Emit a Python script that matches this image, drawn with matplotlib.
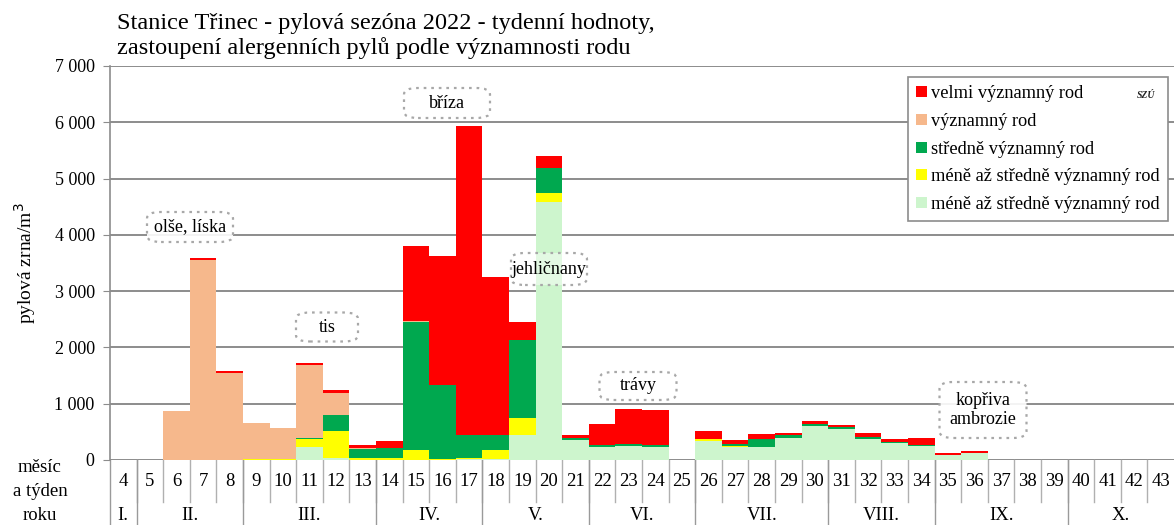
import matplotlib
matplotlib.use("Agg")
import matplotlib.pyplot as plt
from matplotlib.patches import Patch, FancyBboxPatch
from matplotlib.lines import Line2D
from matplotlib.transforms import blended_transform_factory

plt.rcParams['font.family'] = ['Liberation Serif', 'DejaVu Serif']

weeks = list(range(4, 44))
months = ["I.", "II.", "III.", "IV.", "V.", "VI.", "VII.", "VIII.", "IX.", "X."]
month_first_week = [4, 5, 9, 14, 18, 22, 26, 31, 35, 40]
month_last_week = [4, 8, 13, 17, 21, 25, 30, 34, 39, 43]

# values per week 4..43
light_green = [0, 0, 0, 0, 0, 0, 0, 230, 30, 0, 0, 0, 0, 10, 25, 440, 4580, 350, 235, 250,
               224, 0, 340, 230, 235, 390, 600, 547, 370, 305, 247, 80, 130, 0, 0, 0, 0, 0, 0, 0]
yellow = [0, 0, 0, 0, 0, 10, 10, 145, 490, 40, 40, 180, 20, 30, 150, 300, 160, 0, 0, 0,
          0, 0, 30, 25, 0, 0, 0, 0, 0, 0, 0, 0, 0, 0, 0, 0, 0, 0, 0, 0]
green = [0, 0, 0, 0, 0, 10, 0, 15, 275, 150, 170, 2270, 1310, 410, 265, 1390, 440, 40, 40, 40,
         40, 0, 10, 35, 130, 60, 45, 40, 40, 20, 20, 0, 0, 0, 0, 0, 0, 0, 0, 0]
peach = [0, 0, 870, 3550, 1550, 640, 560, 1290, 390, 20, 0, 20, 0, 0, 0, 0, 0, 0, 0, 0,
         0, 0, 0, 0, 0, 0, 0, 0, 0, 0, 0, 0, 0, 0, 0, 0, 0, 0, 0, 0]
red = [0, 0, 0, 40, 25, 0, 0, 40, 60, 50, 130, 1340, 2300, 5490, 2810, 320, 225, 60, 360, 620,
       620, 0, 140, 60, 90, 30, 40, 30, 70, 40, 115, 40, 30, 0, 0, 0, 0, 0, 0, 0]

series_labels = ["velmi významný rod", "významný rod", "středně významný rod",
                 "méně až středně významný rod", "méně až středně významný rod"]
c_red, c_peach, c_green, c_yellow, c_lg = "#ff0000", "#f6b88c", "#00a84f", "#ffff00", "#cdf5cd"

W, H = 1174, 525
fig = plt.figure(figsize=(W / 100, H / 100), dpi=100)
ax_l, ax_r, ax_t, ax_b = 110, 1174, 66, 460
ax = fig.add_axes([ax_l / W, 1 - ax_b / H, (ax_r - ax_l) / W, (ax_b - ax_t) / H])

bottom = [0] * len(weeks)
for vals, col in [(light_green, c_lg), (yellow, c_yellow), (green, c_green), (peach, c_peach), (red, c_red)]:
    ax.bar(weeks, vals, width=1.0, bottom=bottom, color=col, linewidth=0, zorder=3)
    bottom = [b + v for b, v in zip(bottom, vals)]

ax.set_xlim(3.5, 43.5)
ax.set_ylim(0, 7000)
ax.set_yticks(range(0, 7001, 1000))
ax.set_yticklabels([f"{v:,}".replace(",", " ") for v in range(0, 7001, 1000)], fontsize=13)
ax.yaxis.grid(True, color="#8c8c8c", linewidth=1.4, zorder=0)
ax.set_axisbelow(True)
ax.set_xticks([])
for s in ["top", "right", "bottom"]:
    ax.spines[s].set_visible(False)
ax.spines["left"].set_color("#8c8c8c")
ax.spines["left"].set_linewidth(1.2)
ax.tick_params(axis="y", length=5, color="#8c8c8c", pad=6)
ax.set_ylabel("pylová zrna/m$^3$", fontsize=14, labelpad=12)

# title
fig.text(117 / W, 1 - 23 / H, "Stanice Třinec - pylová sezóna 2022 - tydenní hodnoty,", fontsize=17.5, va="center")
fig.text(117 / W, 1 - 48 / H, "zastoupení alergenních pylů podle významnosti rodu", fontsize=17.5, va="center")

# bottom table
tb = blended_transform_factory(ax.transData, fig.transFigure)
for w in weeks:
    fig.text(w, 1 - 482 / H, str(w), transform=tb, ha="center", va="center", fontsize=13.5)
    if w > 4:
        ax.add_line(Line2D([w - 0.5, w - 0.5], [1 - 460 / H, 1 - 502 / H], transform=tb,
                           color="#b0b0b0", linewidth=1, clip_on=False))
for b in [3.5] + [lw + 0.5 for lw in month_last_week[:-1]]:
    ax.add_line(Line2D([b, b], [1 - 460 / H, 0], transform=tb, color="#9a9a9a",
                       linewidth=1, clip_on=False))
for m, a, b in zip(months, month_first_week, month_last_week):
    fig.text((a + b) / 2, 1 - 516 / H, m, transform=tb, ha="center", va="center", fontsize=13.5)
fig.text(40 / W, 1 - 468 / H, "měsíc", ha="center", va="center", fontsize=13.5)
fig.text(40 / W, 1 - 492 / H, "a týden", ha="center", va="center", fontsize=13.5)
fig.text(40 / W, 1 - 516 / H, "roku", ha="center", va="center", fontsize=13.5)

# annotations
def note(cx, cy, txt, w, h, alpha=0.9):
    x0, y0 = cx - w / 2, cy - h / 2
    box = FancyBboxPatch((x0 / W, 1 - (y0 + h) / H), w / W, h / H, transform=fig.transFigure,
                         boxstyle="round,pad=0,rounding_size=0.012", facecolor=(1, 1, 1, alpha),
                         edgecolor="#a8a8a8", linestyle=(0, (1.2, 2.2)), linewidth=1.6, zorder=5)
    fig.add_artist(box)
    fig.text(cx / W, 1 - cy / H, txt, ha="center", va="center", fontsize=13, zorder=6,
             linespacing=1.2)

note(190, 227, "olše, líska", 86, 30)
note(447, 103, "bříza", 86, 30)
note(327, 327, "tis", 62, 29)
note(549, 269, "jehličnany", 76, 32, alpha=0.45)
note(638, 386, "trávy", 77, 28)
note(983, 410, "kopřiva\nambrozie", 87, 56)

# legend
handles = [Patch(facecolor=c, edgecolor="none") for c in [c_red, c_peach, c_green, c_yellow, c_lg]]
leg = ax.legend(handles, series_labels, loc="upper right",
                bbox_to_anchor=((1168 - ax_l) / (ax_r - ax_l), (ax_b - 77) / (ax_b - ax_t)),
                fontsize=13.2, frameon=True, fancybox=False, edgecolor="#8c8c8c", framealpha=1,
                handlelength=0.55, handleheight=0.55, handletextpad=0.25, labelspacing=0.58,
                borderpad=0.45, borderaxespad=0)
leg.get_frame().set_linewidth(1.2)
leg.set_zorder(7)
fig.text(1146 / W, 1 - 96 / H, "SZÚ", ha="center", va="center", fontsize=7, fontweight="bold",
         style="italic", color="#222222", zorder=8)

fig.savefig("out.png", dpi=100)
